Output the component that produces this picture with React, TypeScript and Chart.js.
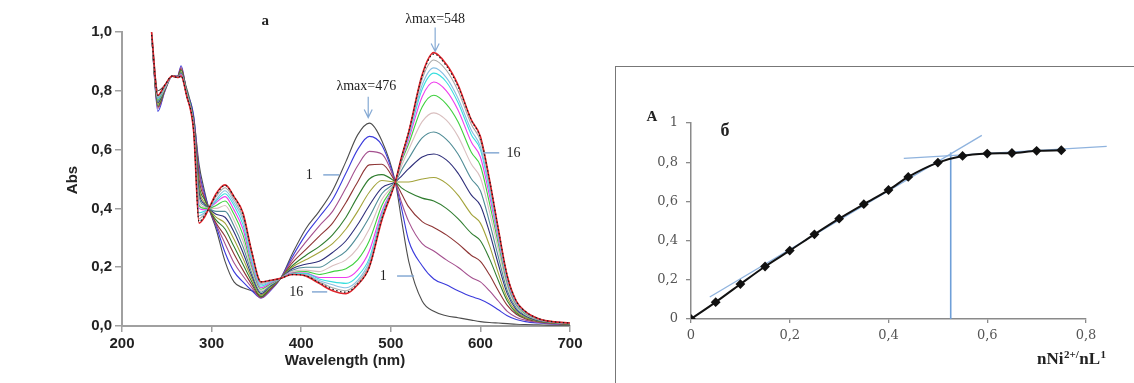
import React, { useEffect, useRef } from "react";
import { Chart, registerables } from "chart.js";
Chart.register(...registerables);

// ---------- Left panel (a): absorption spectra ----------
const wavelengths = [233, 240, 248, 256, 262, 266, 272, 280, 286, 292, 297, 305, 315, 325, 335, 345, 355, 365, 377, 390, 405, 420, 435, 450, 463, 476, 490, 505, 512, 520, 535, 548, 562, 575, 590, 600, 610, 620, 630, 640, 650, 665, 680, 700];

const curve01 = [1.0, 0.80, 0.82, 0.85, 0.845, 0.86, 0.81, 0.71, 0.55, 0.46, 0.40, 0.33, 0.22, 0.15, 0.13, 0.12, 0.105, 0.125, 0.162, 0.245, 0.33, 0.39, 0.46, 0.56, 0.65, 0.69, 0.63, 0.49, 0.36, 0.22, 0.085, 0.05, 0.035, 0.028, 0.02, 0.015, 0.012, 0.01, 0.008, 0.006, 0.005, 0.004, 0.003, 0.003];
const curve02 = [0.99, 0.73, 0.80, 0.85, 0.85, 0.885, 0.80, 0.715, 0.53, 0.45, 0.40, 0.34, 0.25, 0.185, 0.15, 0.12, 0.095, 0.118, 0.162, 0.235, 0.31, 0.37, 0.43, 0.52, 0.60, 0.645, 0.615, 0.49, 0.40, 0.29, 0.205, 0.16, 0.14, 0.12, 0.10, 0.09, 0.075, 0.055, 0.035, 0.022, 0.015, 0.01, 0.007, 0.005];
const curve03 = [0.99, 0.74, 0.80, 0.85, 0.85, 0.88, 0.80, 0.70, 0.52, 0.44, 0.40, 0.345, 0.28, 0.215, 0.17, 0.13, 0.095, 0.12, 0.162, 0.225, 0.285, 0.34, 0.39, 0.47, 0.545, 0.594, 0.585, 0.49, 0.42, 0.355, 0.28, 0.255, 0.225, 0.20, 0.165, 0.15, 0.12, 0.085, 0.05, 0.03, 0.02, 0.012, 0.008, 0.005];
const curve04 = [0.99, 0.745, 0.805, 0.85, 0.848, 0.875, 0.80, 0.70, 0.50, 0.435, 0.40, 0.35, 0.305, 0.245, 0.19, 0.14, 0.098, 0.124, 0.162, 0.215, 0.26, 0.305, 0.35, 0.42, 0.49, 0.548, 0.55, 0.49, 0.45, 0.405, 0.355, 0.335, 0.31, 0.28, 0.24, 0.22, 0.175, 0.12, 0.07, 0.04, 0.025, 0.015, 0.01, 0.006];
const curve05 = [0.99, 0.75, 0.805, 0.85, 0.848, 0.87, 0.80, 0.695, 0.48, 0.43, 0.40, 0.36, 0.33, 0.27, 0.21, 0.15, 0.10, 0.127, 0.162, 0.205, 0.24, 0.27, 0.31, 0.37, 0.44, 0.50, 0.515, 0.49, 0.47, 0.455, 0.435, 0.425, 0.40, 0.365, 0.315, 0.29, 0.23, 0.155, 0.085, 0.045, 0.028, 0.016, 0.01, 0.006];
const curve06 = [0.99, 0.755, 0.81, 0.85, 0.847, 0.865, 0.80, 0.69, 0.47, 0.42, 0.40, 0.37, 0.35, 0.295, 0.23, 0.16, 0.105, 0.13, 0.162, 0.20, 0.225, 0.25, 0.28, 0.33, 0.39, 0.455, 0.495, 0.49, 0.49, 0.49, 0.50, 0.505, 0.485, 0.445, 0.38, 0.35, 0.275, 0.18, 0.095, 0.05, 0.03, 0.017, 0.011, 0.007];
const curve07 = [0.99, 0.76, 0.81, 0.85, 0.847, 0.86, 0.80, 0.69, 0.455, 0.415, 0.40, 0.38, 0.37, 0.32, 0.25, 0.17, 0.11, 0.134, 0.162, 0.195, 0.21, 0.22, 0.25, 0.29, 0.345, 0.41, 0.47, 0.49, 0.51, 0.535, 0.575, 0.585, 0.565, 0.52, 0.445, 0.41, 0.32, 0.21, 0.11, 0.056, 0.034, 0.018, 0.012, 0.007];
const curve08 = [0.99, 0.765, 0.81, 0.85, 0.846, 0.86, 0.80, 0.685, 0.44, 0.41, 0.40, 0.39, 0.39, 0.34, 0.27, 0.18, 0.115, 0.137, 0.162, 0.19, 0.20, 0.20, 0.225, 0.255, 0.305, 0.37, 0.45, 0.49, 0.53, 0.57, 0.64, 0.66, 0.635, 0.585, 0.50, 0.46, 0.355, 0.235, 0.12, 0.062, 0.037, 0.02, 0.012, 0.008];
const curve09 = [0.99, 0.77, 0.81, 0.85, 0.846, 0.855, 0.795, 0.68, 0.425, 0.405, 0.40, 0.40, 0.41, 0.36, 0.29, 0.19, 0.12, 0.14, 0.162, 0.185, 0.19, 0.185, 0.205, 0.225, 0.265, 0.33, 0.43, 0.49, 0.545, 0.60, 0.695, 0.725, 0.70, 0.645, 0.55, 0.505, 0.39, 0.26, 0.135, 0.068, 0.04, 0.021, 0.013, 0.008];
const curve10 = [0.99, 0.77, 0.815, 0.85, 0.845, 0.855, 0.795, 0.68, 0.41, 0.40, 0.40, 0.41, 0.425, 0.38, 0.31, 0.20, 0.125, 0.142, 0.162, 0.18, 0.185, 0.175, 0.185, 0.195, 0.225, 0.29, 0.41, 0.49, 0.56, 0.62, 0.745, 0.785, 0.755, 0.695, 0.59, 0.545, 0.42, 0.28, 0.145, 0.072, 0.042, 0.022, 0.013, 0.008];
const curve11 = [0.99, 0.775, 0.815, 0.85, 0.845, 0.855, 0.79, 0.675, 0.40, 0.395, 0.40, 0.42, 0.44, 0.395, 0.33, 0.21, 0.13, 0.145, 0.162, 0.18, 0.18, 0.165, 0.165, 0.165, 0.19, 0.255, 0.39, 0.49, 0.565, 0.635, 0.78, 0.83, 0.80, 0.735, 0.625, 0.575, 0.445, 0.295, 0.152, 0.076, 0.045, 0.023, 0.014, 0.009];
const curve12 = [0.99, 0.775, 0.815, 0.85, 0.845, 0.85, 0.79, 0.67, 0.385, 0.39, 0.40, 0.425, 0.45, 0.41, 0.345, 0.22, 0.135, 0.148, 0.162, 0.178, 0.178, 0.16, 0.15, 0.145, 0.17, 0.23, 0.38, 0.49, 0.57, 0.645, 0.805, 0.86, 0.83, 0.76, 0.65, 0.60, 0.465, 0.305, 0.158, 0.079, 0.046, 0.024, 0.014, 0.009];
const curve13 = [0.99, 0.78, 0.815, 0.85, 0.845, 0.85, 0.79, 0.67, 0.375, 0.385, 0.40, 0.43, 0.46, 0.42, 0.36, 0.23, 0.14, 0.15, 0.162, 0.177, 0.175, 0.155, 0.14, 0.13, 0.155, 0.22, 0.375, 0.49, 0.572, 0.65, 0.82, 0.878, 0.845, 0.775, 0.665, 0.61, 0.475, 0.31, 0.16, 0.08, 0.047, 0.024, 0.014, 0.009];
const curve14 = [0.99, 0.78, 0.82, 0.85, 0.845, 0.85, 0.785, 0.665, 0.365, 0.38, 0.40, 0.44, 0.47, 0.43, 0.37, 0.24, 0.145, 0.152, 0.162, 0.176, 0.173, 0.15, 0.13, 0.12, 0.148, 0.21, 0.37, 0.49, 0.575, 0.655, 0.84, 0.905, 0.87, 0.80, 0.685, 0.63, 0.49, 0.32, 0.165, 0.083, 0.048, 0.025, 0.015, 0.01];
const curve15 = [0.99, 0.785, 0.82, 0.85, 0.845, 0.85, 0.785, 0.665, 0.355, 0.375, 0.40, 0.445, 0.478, 0.44, 0.38, 0.25, 0.15, 0.155, 0.162, 0.175, 0.171, 0.148, 0.125, 0.115, 0.143, 0.20, 0.365, 0.49, 0.575, 0.66, 0.85, 0.925, 0.885, 0.815, 0.70, 0.64, 0.50, 0.33, 0.17, 0.085, 0.05, 0.025, 0.015, 0.01];
const curve16 = [1.0, 0.785, 0.82, 0.85, 0.845, 0.85, 0.785, 0.66, 0.35, 0.37, 0.40, 0.45, 0.48, 0.44, 0.385, 0.25, 0.15, 0.155, 0.162, 0.175, 0.17, 0.145, 0.12, 0.11, 0.14, 0.20, 0.36, 0.49, 0.575, 0.66, 0.855, 0.93, 0.89, 0.82, 0.70, 0.645, 0.50, 0.33, 0.17, 0.085, 0.05, 0.025, 0.015, 0.01];

const spectra = [curve01, curve02, curve03, curve04, curve05, curve06, curve07, curve08, curve09, curve10, curve11, curve12, curve13, curve14, curve15, curve16];
const spectraColors = ["#4d4d4d", "#3b3bdc", "#a4508f", "#8e3535", "#2f7d2f", "#a3a33a", "#2e2e7a", "#4f8c96", "#d9bfbf", "#3fd03f", "#ee3cee", "#38dede", "#86bfe3", "#a9a9a9", "#1a1a1a", "#e0242b"];
const wavelengthTicks = [200, 300, 400, 500, 600, 700];
const absTicks = [0, 0.2, 0.4, 0.6, 0.8, 1.0];

// ---------- Right panel (б): titration ----------
const molarRatio = [0, 0.05, 0.1, 0.15, 0.2, 0.25, 0.3, 0.35, 0.4, 0.44, 0.5, 0.55, 0.6, 0.65, 0.7, 0.75];
const absorbanceA = [0, 0.086, 0.178, 0.268, 0.349, 0.432, 0.512, 0.586, 0.658, 0.725, 0.798, 0.832, 0.844, 0.847, 0.858, 0.861];
const tangentRiseX = [0.038, 0.589];
const tangentRiseY = [0.112, 0.937];
const tangentPlateauX = [0.431, 0.842];
const tangentPlateauY = [0.819, 0.881];
const breakX = [0.526, 0.526];
const breakY = [0, 0.85];

const commaFmt = (v: number) => {
  const r = Math.round(v * 10) / 10;
  if (r === 0) return "0";
  if (r === 1) return "1";
  return r.toFixed(1).replace(".", ",");
};

const leftNotes = {
  id: "leftNotes",
  afterDatasetsDraw(chart: any) {
    const ctx = chart.ctx;
    const X = (v: number) => chart.scales.x.getPixelForValue(v);
    const Y = (v: number) => chart.scales.y.getPixelForValue(v);
    ctx.save();
    ctx.textAlign = "center";
    ctx.textBaseline = "middle";
    ctx.fillStyle = "#222";
    ctx.font = 'bold 15px "Liberation Serif"';
    ctx.fillText("a", X(360), Y(1.036));
    ctx.font = '14px "Liberation Serif"';
    ctx.fillText("λmax=548", X(549.5), Y(1.043));
    ctx.fillText("λmax=476", X(472.7), Y(0.814));
    ctx.fillText("16", X(637), Y(0.589));
    ctx.fillText("1", X(409), Y(0.514));
    ctx.fillText("1", X(491.6), Y(0.17));
    ctx.fillText("16", X(394.5), Y(0.116));
    ctx.strokeStyle = "#86aad4";
    ctx.lineWidth = 1.5;
    const seg = (x1: number, x2: number, y: number) => {
      ctx.beginPath();
      ctx.moveTo(X(x1), Y(y));
      ctx.lineTo(X(x2), Y(y));
      ctx.stroke();
    };
    seg(603, 621, 0.589);
    seg(424.6, 442.5, 0.514);
    seg(507, 526, 0.17);
    seg(412, 429, 0.116);
    const arrow = (x: number, y1: number, y2: number) => {
      const px = X(x);
      const a = Y(y1);
      const b = Y(y2);
      ctx.lineWidth = 1.2;
      ctx.beginPath();
      ctx.moveTo(px, a);
      ctx.lineTo(px, b);
      ctx.moveTo(px - 4, b - 8);
      ctx.lineTo(px, b);
      ctx.lineTo(px + 4, b - 8);
      ctx.stroke();
    };
    arrow(549.5, 1.015, 0.934);
    arrow(474.8, 0.78, 0.709);
    // axis titles
    ctx.fillStyle = "#222";
    ctx.font = 'bold 15px "Liberation Sans"';
    ctx.fillText("Wavelength (nm)", 345, 361);
    ctx.translate(73, 180);
    ctx.rotate(-Math.PI / 2);
    ctx.fillText("Abs", 0, 0);
    ctx.restore();
  },
};

const rightNotes = {
  id: "rightNotes",
  afterDatasetsDraw(chart: any) {
    const ctx = chart.ctx;
    ctx.save();
    ctx.fillStyle = "#222";
    ctx.textBaseline = "middle";
    ctx.textAlign = "center";
    ctx.font = 'bold 15px "Liberation Serif"';
    ctx.fillText("A", 35, 50);
    ctx.font = 'bold 18px "Liberation Serif"';
    ctx.fillText("б", 108, 64);
    ctx.textAlign = "left";
    let x = 420;
    const y = 293;
    const part = (t: string, size: number, dy: number) => {
      ctx.font = `bold ${size}px "Liberation Serif"`;
      ctx.fillText(t, x, y + dy);
      x += ctx.measureText(t).width + 0.5;
    };
    part("nNi", 17, 0);
    part("2+/", 11, -5);
    part("nL", 17, 0);
    part("1", 11, -5);
    ctx.restore();
  },
};

export default function App() {
  const leftRef = useRef<HTMLCanvasElement>(null);
  const rightRef = useRef<HTMLCanvasElement>(null);

  useEffect(() => {
    const left = new Chart(leftRef.current as HTMLCanvasElement, {
      type: "line",
      data: {
        datasets: spectra.map((c, i) => ({
          label: String(i + 1),
          data: wavelengths.map((w, j) => ({ x: w, y: c[j] })),
          borderColor: spectraColors[i],
          borderWidth: i === 15 ? 1.6 : i === 14 ? 1.2 : 1.1,
          borderDash: i === 14 ? [1.5, 2.5] : [],
          pointRadius: 0,
          fill: false,
          tension: 0.4,
          cubicInterpolationMode: "monotone" as const,
          order: i === 14 ? 0 : 16 - i,
        })),
      },
      options: {
        responsive: false,
        maintainAspectRatio: false,
        devicePixelRatio: 1,
        animation: false,
        events: [],
        layout: { padding: { top: 32, right: 30, left: 0, bottom: 0 } },
        plugins: { legend: { display: false }, tooltip: { enabled: false } },
        scales: {
          x: {
            type: "linear",
            min: 200,
            max: 700,
            afterFit: (s: any) => { s.height = 57; },
            afterBuildTicks: (s: any) => { s.ticks = wavelengthTicks.map((v) => ({ value: v })); },
            ticks: { color: "#222", padding: 3, font: { family: "Liberation Sans", size: 15, weight: "bold" } },
            grid: { drawOnChartArea: false, drawTicks: true, tickLength: 6, color: "#a0a0a0", lineWidth: 1.5 },
            border: { display: true, color: "#a0a0a0", width: 2 },
          },
          y: {
            type: "linear",
            min: 0,
            max: 1,
            afterFit: (s: any) => { s.width = 122; },
            afterBuildTicks: (s: any) => { s.ticks = absTicks.map((v) => ({ value: v })); },
            ticks: { color: "#222", padding: 3, callback: (v: any) => Number(v).toFixed(1).replace(".", ","), font: { family: "Liberation Sans", size: 15, weight: "bold" } },
            grid: { drawOnChartArea: false, drawTicks: true, tickLength: 7, color: "#a0a0a0", lineWidth: 1.5 },
            border: { display: true, color: "#a0a0a0", width: 2 },
          },
        },
      },
      plugins: [leftNotes],
    } as any);

    const right = new Chart(rightRef.current as HTMLCanvasElement, {
      type: "line",
      data: {
        datasets: [
          {
            data: molarRatio.map((v, i) => ({ x: v, y: absorbanceA[i] })),
            borderColor: "#111",
            borderWidth: 2,
            pointStyle: "rectRot",
            pointRadius: 3.5,
            pointBackgroundColor: "#111",
            pointBorderColor: "#111",
            tension: 0.4,
            cubicInterpolationMode: "monotone" as const,
            order: 0,
          },
          {
            data: tangentRiseX.map((v, i) => ({ x: v, y: tangentRiseY[i] })),
            borderColor: "#8fb3de",
            borderWidth: 1.3,
            pointRadius: 0,
            clip: false,
            order: 1,
          },
          {
            data: tangentPlateauX.map((v, i) => ({ x: v, y: tangentPlateauY[i] })),
            borderColor: "#8fb3de",
            borderWidth: 1.3,
            pointRadius: 0,
            clip: false,
            order: 2,
          },
          {
            data: breakX.map((v, i) => ({ x: v, y: breakY[i] })),
            borderColor: "#6f9fd8",
            borderWidth: 1.6,
            pointRadius: 0,
            clip: false,
            order: 3,
          },
        ],
      },
      options: {
        responsive: false,
        maintainAspectRatio: false,
        devicePixelRatio: 1,
        animation: false,
        events: [],
        layout: { padding: { top: 56, right: 48, left: 0, bottom: 0 } },
        plugins: { legend: { display: false }, tooltip: { enabled: false } },
        scales: {
          x: {
            type: "linear",
            min: 0,
            max: 0.8,
            afterFit: (s: any) => { s.height = 64; },
            ticks: { stepSize: 0.2, color: "#555", padding: 5, callback: (v: any) => commaFmt(Number(v)), font: { family: "DejaVu Serif", size: 13 } },
            grid: { drawOnChartArea: false, drawTicks: true, tickLength: 4, color: "#8a8a8a", lineWidth: 1.3 },
            border: { display: true, color: "#8a8a8a", width: 1.5 },
          },
          y: {
            type: "linear",
            min: 0,
            max: 1,
            afterFit: (s: any) => { s.width = 74; },
            ticks: { stepSize: 0.2, color: "#555", padding: 8, callback: (v: any) => commaFmt(Number(v)), font: { family: "DejaVu Serif", size: 13 } },
            grid: { drawOnChartArea: false, drawTicks: true, tickLength: 5, color: "#8a8a8a", lineWidth: 1.3 },
            border: { display: true, color: "#8a8a8a", width: 1.5 },
          },
        },
      },
      plugins: [rightNotes],
    } as any);

    return () => {
      left.destroy();
      right.destroy();
    };
  }, []);

  return (
    <div style={{ position: "fixed", left: 0, top: 0, width: 1134, height: 383, background: "#fff", overflow: "hidden" }}>
      <canvas ref={leftRef} width={600} height={383} style={{ position: "absolute", left: 0, top: 0, width: 600, height: 383 }} />
      <div style={{ position: "absolute", left: 615, top: 66, width: 600, height: 400, borderLeft: "1px solid #777", borderTop: "1px solid #777" }} />
      <canvas ref={rightRef} width={517} height={316} style={{ position: "absolute", left: 617, top: 67, width: 517, height: 316 }} />
    </div>
  );
}
